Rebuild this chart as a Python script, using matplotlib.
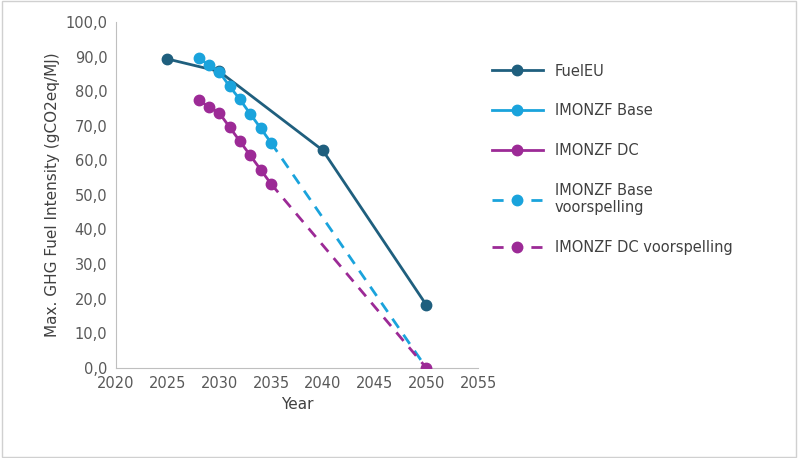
import matplotlib
matplotlib.use("Agg")
import matplotlib.pyplot as plt
from matplotlib.ticker import FuncFormatter
from matplotlib.lines import Line2D

fuel_years = [2025, 2030, 2040, 2050]
fuel_vals = [89.3, 85.7, 62.9, 18.2]
base_years = [2028, 2029, 2030, 2031, 2032, 2033, 2034, 2035]
base_vals = [89.6, 87.6, 85.6, 81.4, 77.6, 73.4, 69.3, 65.1]
dc_years = [2028, 2029, 2030, 2031, 2032, 2033, 2034, 2035]
dc_vals = [77.4, 75.5, 73.7, 69.6, 65.5, 61.4, 57.3, 53.2]
base_fc_years = [2035, 2050]
base_fc_vals = [65.1, 0.0]
dc_fc_years = [2035, 2050]
dc_fc_vals = [53.2, 0.0]

c_fuel = "#1f5f7e"
c_base = "#1aa3dc"
c_dc = "#9c2a96"

fig = plt.figure(figsize=(7.98, 4.58), dpi=100)
ax = fig.add_axes([0.145, 0.197, 0.454, 0.755])
ms = 7.5
ax.plot(fuel_years, fuel_vals, color=c_fuel, lw=2, marker="o", ms=ms, label="FuelEU", zorder=3)
ax.plot(base_years, base_vals, color=c_base, lw=2, marker="o", ms=ms, label="IMONZF Base", zorder=3)
ax.plot(dc_years, dc_vals, color=c_dc, lw=2, marker="o", ms=ms, label="IMONZF DC", zorder=3)
ax.plot(base_fc_years, base_fc_vals, color=c_base, lw=2, ls=(0, (4, 3)), label="IMONZF Base\nvoorspelling", zorder=2)
ax.plot(dc_fc_years, dc_fc_vals, color=c_dc, lw=2, ls=(0, (4, 3)), label="IMONZF DC voorspelling", zorder=2)
ax.plot([dc_fc_years[-1]], [dc_fc_vals[-1]], color=c_dc, marker="o", ms=ms, ls="none", zorder=4)

ax.set_xlim(2020, 2055)
ax.set_ylim(0, 100)
ax.set_xticks(range(2020, 2056, 5))
ax.set_yticks(range(0, 101, 10))
ax.yaxis.set_major_formatter(FuncFormatter(lambda v, p: f"{v:.1f}".replace(".", ",")))
for s in ["top", "right"]:
    ax.spines[s].set_visible(False)
for s in ["left", "bottom"]:
    ax.spines[s].set_color("#bfbfbf")
ax.tick_params(length=0, labelsize=10.5, colors="#595959", pad=6)
ax.set_xlabel("Year", fontsize=11, color="#404040")
ax.set_ylabel("Max. GHG Fuel Intensity (gCO2eq/MJ)", fontsize=11, color="#404040")

h, l = ax.get_legend_handles_labels()
h[3] = Line2D([], [], color=c_base, lw=2, ls=(0, (4, 3)), marker="o", ms=ms)
h[4] = Line2D([], [], color=c_dc, lw=2, ls=(0, (4, 3)), marker="o", ms=ms)
fig.legend(h, l, loc="upper left", bbox_to_anchor=(0.6, 0.89), frameon=False,
           fontsize=10.5, labelspacing=1.7, handlelength=3.5, labelcolor="#404040")
fig.patches.append(plt.Rectangle((0.002, 0.003), 0.995, 0.994, transform=fig.transFigure,
                                 fill=False, edgecolor="#d0d0d0", lw=1))
fig.savefig("out.png", dpi=100)
